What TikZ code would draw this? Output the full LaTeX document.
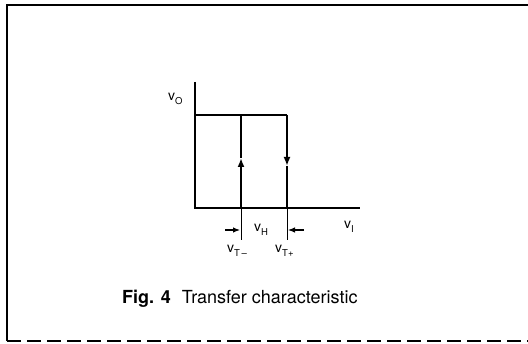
\documentclass[tikz,border=0pt]{standalone}
\usepackage{fontspec}
\setmainfont{TeX Gyre Heros}
\usetikzlibrary{arrows.meta}
\newcommand\vsub[2]{#1\raisebox{-0.45ex}{\fontsize{9.5}{9.5}\selectfont #2}}
\begin{document}
\begin{tikzpicture}[x=1pt,y=-1pt,
  frame/.style={line width=1.6pt},
  axisline/.style={line width=1.2pt},
  branch/.style={line width=2.2pt},
  branchtip/.style={line width=2.2pt,-{Latex[length=9pt,width=7pt]}},
  lbl/.style={inner sep=0pt, font=\fontsize{14}{14}\selectfont},
  dimarrow/.style={line width=1.1pt,-{Latex[length=7pt,width=5.5pt]}},
]
\useasboundingbox (0,0) rectangle (528,344);
% frame
\coordinate (ftl) at (7,5);
\coordinate (ftr) at (528,5);
\coordinate (fbl) at (7,341);
\coordinate (fbr) at (528,341);
\draw[frame] (fbl) -- (ftl) -- (ftr);
\draw[frame,dash pattern=on 14pt off 6pt] (fbl) -- (fbr);
% axes
\coordinate (org) at (195,208);
\coordinate (ytop) at (195,82);
\coordinate (xend) at (360,208);
\draw[axisline] (ytop) -- (org) -- (xend);
% hysteresis
\coordinate (hl) at (195,115);
\coordinate (tl) at (241,115);
\coordinate (tr) at (287,115);
\coordinate (bl) at (241,208);
\coordinate (br) at (287,208);
\coordinate (bend) at (333,208);
\coordinate (ml) at (241,158);
\coordinate (mr) at (287,166);
\draw[branch] (hl) -- (tr);
\draw[branch] (bl) -- (bend);
\draw[branchtip] (bl) -- (ml);
\draw[branch] (ml) -- (tl);
\draw[branchtip] (tr) -- (mr);
\draw[branch] (mr) -- (br);
% ticks
\coordinate (tlb) at (241,240);
\coordinate (trb) at (287,240);
\draw[line width=1pt] (bl) -- (tlb);
\draw[line width=1pt] (br) -- (trb);
% dimension arrows
\coordinate (la) at (225,230);
\coordinate (lae) at (240,230);
\coordinate (ra) at (304,230);
\coordinate (rae) at (288,230);
\draw[dimarrow] (la) -- (lae);
\draw[dimarrow] (ra) -- (rae);
% labels
\node[lbl,anchor=base west] (vo) at (168,101) {\vsub{v}{O}};
\node[lbl,anchor=base west] (vi) at (344,229) {\vsub{v}{I}};
\node[lbl,anchor=base west] (vh) at (254,232) {\vsub{v}{H}};
\node[lbl,anchor=base west] (vtm) at (227,253) {\vsub{v}{T\,–}};
\node[lbl,anchor=base west] (vtp) at (275,253) {\vsub{v}{T+}};
% caption
\node[inner sep=0pt,anchor=base west,font=\fontsize{18}{18}\selectfont] (cap) at (122,304)
  {\textbf{Fig. 4}\hspace{11pt}Transfer characteristic};
\end{tikzpicture}
\end{document}
